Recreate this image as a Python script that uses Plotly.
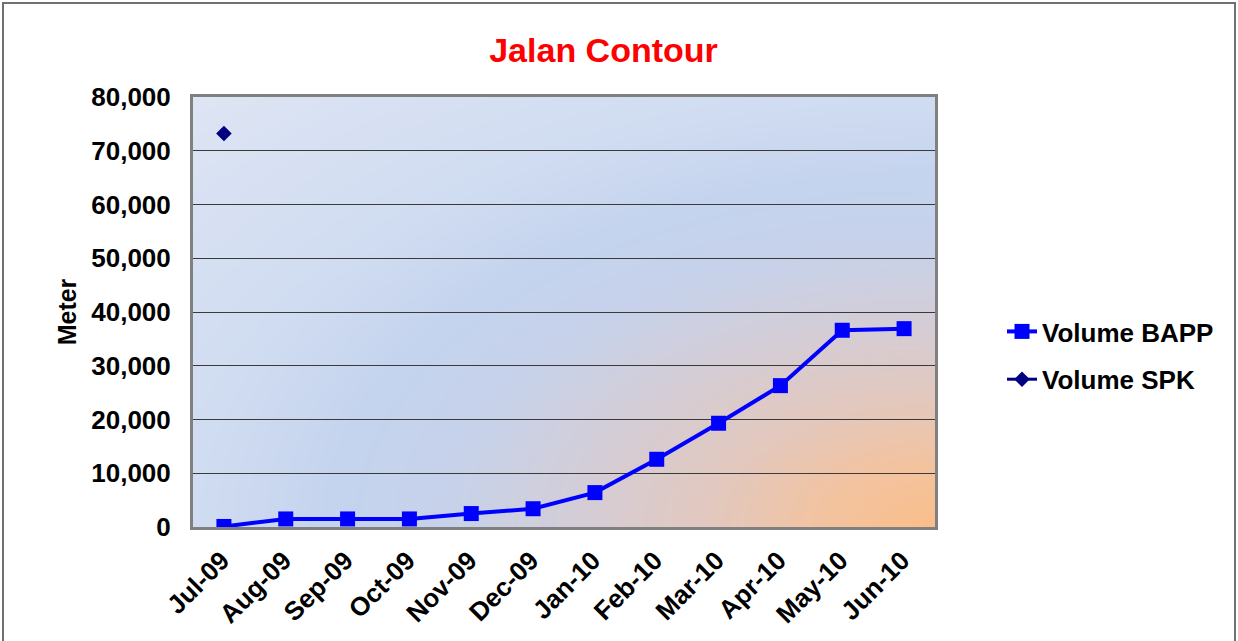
import base64
import math
import struct
import zlib

import plotly.graph_objects as go

# ---------------- data ----------------
months = ["Jul-09", "Aug-09", "Sep-09", "Oct-09", "Nov-09", "Dec-09",
          "Jan-10", "Feb-10", "Mar-10", "Apr-10", "May-10", "Jun-10"]
volume_bapp = [100, 1500, 1500, 1500, 2500, 3400, 6400, 12600, 19300, 26300, 36600, 36900]
volume_spk = [73200, None, None, None, None, None, None, None, None, None, None, None]
y_ticks = [0, 10000, 20000, 30000, 40000, 50000, 60000, 70000, 80000]

# ---------------- background gradient (decoration) ----------------
PW, PH = 742, 430
stops = [
    (0.00, (250, 190, 138)),
    (0.15, (243, 195, 160)),
    (0.30, (227, 200, 190)),
    (0.48, (212, 205, 215)),
    (0.65, (199, 210, 234)),
    (0.80, (196, 211, 238)),
    (1.00, (208, 220, 241)),
    (1.42, (222, 229, 244)),
]


def grad_color(d):
    if d <= stops[0][0]:
        return stops[0][1]
    for (d0, c0), (d1, c1) in zip(stops, stops[1:]):
        if d <= d1:
            t = (d - d0) / (d1 - d0)
            return tuple(int(round(a + (b - a) * t)) for a, b in zip(c0, c1))
    return stops[-1][1]


def png_data_uri(w, h):
    raw = bytearray()
    for j in range(h):
        raw.append(0)
        for i in range(w):
            dx = 1 - (i + 0.5) / w
            dy = 1 - (j + 0.5) / h
            d = math.hypot(dx, dy)
            raw += bytes(grad_color(d))

    def chunk(tag, data):
        c = struct.pack(">I", len(data)) + tag + data
        return c + struct.pack(">I", zlib.crc32(tag + data) & 0xFFFFFFFF)

    png = (b"\x89PNG\r\n\x1a\n"
           + chunk(b"IHDR", struct.pack(">IIBBBBB", w, h, 8, 2, 0, 0, 0))
           + chunk(b"IDAT", zlib.compress(bytes(raw), 9))
           + chunk(b"IEND", b""))
    return "data:image/png;base64," + base64.b64encode(png).decode()


bg_uri = png_data_uri(248, 144)

# ---------------- figure ----------------
FONT = "Liberation Sans, Arial, sans-serif"
fig = go.Figure()
fig.add_trace(go.Scatter(
    x=months, y=volume_bapp, name="Volume BAPP", mode="lines+markers",
    line=dict(color="#0000FF", width=4),
    marker=dict(symbol="square", size=15, color="#0000FF"),
    legendgroup="bapp",
))
fig.add_trace(go.Scatter(
    x=months, y=volume_spk, name="Volume SPK", mode="lines+markers",
    line=dict(color="#000080", width=3),
    marker=dict(symbol="diamond", size=12, color="#000080"),
    legendgroup="spk",
))

L, R, T, B = 193, 1238 - 935, 97, 641 - 527
fig.update_layout(
    width=1238, height=641,
    margin=dict(l=L, r=R, t=T, b=B, autoexpand=False),
    paper_bgcolor="white",
    plot_bgcolor="rgba(0,0,0,0)",
    font=dict(family=FONT, color="black"),
    title=dict(text="Jalan Contour", x=603.5 / 1238, xanchor="center",
               y=1 - 50 / 641, yanchor="middle", xref="container", yref="container",
               font=dict(size=34, color="#FF0000", family=FONT, weight="bold")),
    showlegend=True,
    legend=dict(x=(1002 - L) / 742, xanchor="left", y=(527 - 355.5) / 430,
                yanchor="middle",
                font=dict(size=26, family=FONT, weight="bold", color="black"),
                bgcolor="rgba(0,0,0,0)", tracegroupgap=11, traceorder="grouped"),
    images=[dict(source=bg_uri, xref="paper", yref="paper", x=0, y=1,
                 sizex=1, sizey=1, sizing="stretch", xanchor="left",
                 yanchor="top", layer="below")],
    shapes=[dict(type="rect", xref="paper", yref="paper",
                 x0=(3 - L) / 742, x1=(1235 - L) / 742,
                 y0=(527 - 660) / 430, y1=(527 - 3) / 430,
                 line=dict(color="#707070", width=2), fillcolor="rgba(0,0,0,0)",
                 layer="below")],
)
fig.update_xaxes(
    type="category", range=[-0.5, 11.5], showgrid=False,
    showline=True, linecolor="#808080", linewidth=3, mirror=True,
    ticks="", tickangle=-45, ticklabelstandoff=5, ticklabelshift=-2,
    tickfont=dict(size=26, family=FONT, weight="bold", color="black"),
)
fig.update_yaxes(
    range=[0, 80000], tickvals=y_ticks, tickformat=",",
    showgrid=True, gridcolor="#3a3a3a", gridwidth=1, zeroline=False,
    showline=True, linecolor="#808080", linewidth=3, mirror=True,
    ticks="", ticklabelstandoff=14,
    tickfont=dict(size=26, family=FONT, weight="bold", color="black"),
    title=dict(text="Meter", standoff=8,
               font=dict(size=25, family=FONT, weight="bold", color="black")),
)

fig.write_html(
    "out.html",
    config={"displayModeBar": False},
    post_script="document.body.style.margin='0';document.body.style.overflow='hidden';",
)
